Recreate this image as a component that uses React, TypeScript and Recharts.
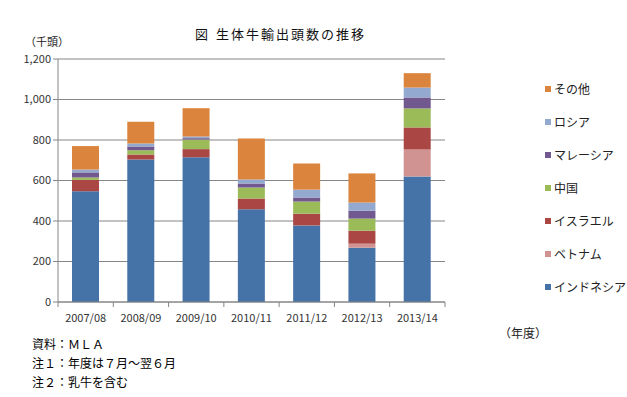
import { BarChart, Bar, XAxis, YAxis, CartesianGrid, Legend } from 'recharts';

const years = ['2007/08', '2008/09', '2009/10', '2010/11', '2011/12', '2012/13', '2013/14'];
const indonesia = [547, 704, 715, 458, 378, 268, 620];
const vietnam = [0, 0, 0, 0, 0, 20, 133];
const israel = [56, 25, 40, 53, 58, 64, 109];
const china = [12, 20, 47, 54, 60, 60, 94];
const malaysia = [25, 19, 7, 20, 20, 39, 54];
const russia = [14, 15, 8, 20, 39, 40, 49];
const others = [116, 107, 140, 203, 129, 144, 71];
const yTicks = [0, 200, 400, 600, 800, 1000, 1200];

const series = [
  { key: 'indonesia', name: 'インドネシア', color: '#4572a7', values: indonesia },
  { key: 'vietnam', name: 'ベトナム', color: '#d09392', values: vietnam },
  { key: 'israel', name: 'イスラエル', color: '#aa4643', values: israel },
  { key: 'china', name: '中国', color: '#9bbb59', values: china },
  { key: 'malaysia', name: 'マレーシア', color: '#71588f', values: malaysia },
  { key: 'russia', name: 'ロシア', color: '#93a9cf', values: russia },
  { key: 'others', name: 'その他', color: '#db843d', values: others },
];

const data = years.map((year, i) => {
  const row: Record<string, string | number> = { year };
  series.forEach((s) => { row[s.key] = s.values[i]; });
  return row;
});

const FONT = '"Noto Sans CJK JP", "Noto Sans", sans-serif';
const AXIS = '#868686';

// Excel-style ticks sit between categories, so draw them from the tick renderer
function XTick(props: any) {
  const { x, y, payload, index, visibleTicksCount } = props;
  const half = payload?.offset ?? 33.5;
  return (
    <g>
      <line x1={x - half} y1={y} x2={x - half} y2={y + 5} stroke={AXIS} />
      {index === (visibleTicksCount ?? 7) - 1 && (
        <line x1={x + half} y1={y} x2={x + half} y2={y + 5} stroke={AXIS} />
      )}
      <text x={x} y={y + 20} textAnchor="middle" fill="#333" fontSize={11} fontFamily={FONT}>
        {payload.value}
      </text>
    </g>
  );
}

function LegendList() {
  return (
    <div style={{ fontFamily: FONT, fontSize: 12, color: '#222', whiteSpace: 'nowrap' }}>
      {[...series].reverse().map((s) => (
        <div key={s.key} style={{ display: 'flex', alignItems: 'center', height: 33 }}>
          <span style={{ width: 6, height: 6, background: s.color, marginRight: 3, flex: 'none' }} />
          <span>{s.name}</span>
        </div>
      ))}
    </div>
  );
}

export default function App() {
  return (
    <div style={{ position: 'absolute', left: 0, top: 0, width: 627, height: 397, background: '#fff', fontFamily: FONT }}>
      <div style={{ position: 'absolute', left: 195, top: 24, fontSize: 13, color: '#111', whiteSpace: 'nowrap', letterSpacing: 2 }}>
        <span style={{ marginRight: 6 }}>図</span>生体牛輸出頭数の推移
      </div>
      <div style={{ position: 'absolute', left: 25, top: 33, fontSize: 11, color: '#222' }}>（千頭）</div>
      <BarChart width={627} height={397} data={data} margin={{ top: 59, right: 100, bottom: 65, left: 0 }} barSize={27}>
        <CartesianGrid vertical={false} stroke={AXIS} strokeWidth={1} />
        <XAxis dataKey="year" height={30} stroke={AXIS} tickLine={false} tickSize={0} tickMargin={0} tick={<XTick />} interval={0} />
        <YAxis
          width={58}
          domain={[0, 1200]}
          ticks={yTicks}
          stroke={AXIS}
          tickSize={5}
          tick={{ fill: '#333', fontSize: 11, fontFamily: FONT }}
          tickFormatter={(v: number) => v.toLocaleString('en-US')}
        />
        <Legend
          layout="vertical"
          verticalAlign="top"
          align="right"
          content={() => <LegendList />}
          wrapperStyle={{ position: 'absolute', left: 545, top: 72, width: 82 }}
        />
        {series.map((s) => (
          <Bar key={s.key} dataKey={s.key} name={s.name} stackId="a" fill={s.color} isAnimationActive={false} />
        ))}
      </BarChart>
      <div style={{ position: 'absolute', left: 499, top: 324, fontSize: 12, color: '#222' }}>（年度）</div>
      <div style={{ position: 'absolute', left: 32, top: 334, fontSize: 12, color: '#000', lineHeight: '19px' }}>
        <div>資料：ＭＬＡ</div>
        <div>注１：年度は７月～翌６月</div>
        <div>注２：乳牛を含む</div>
      </div>
    </div>
  );
}
